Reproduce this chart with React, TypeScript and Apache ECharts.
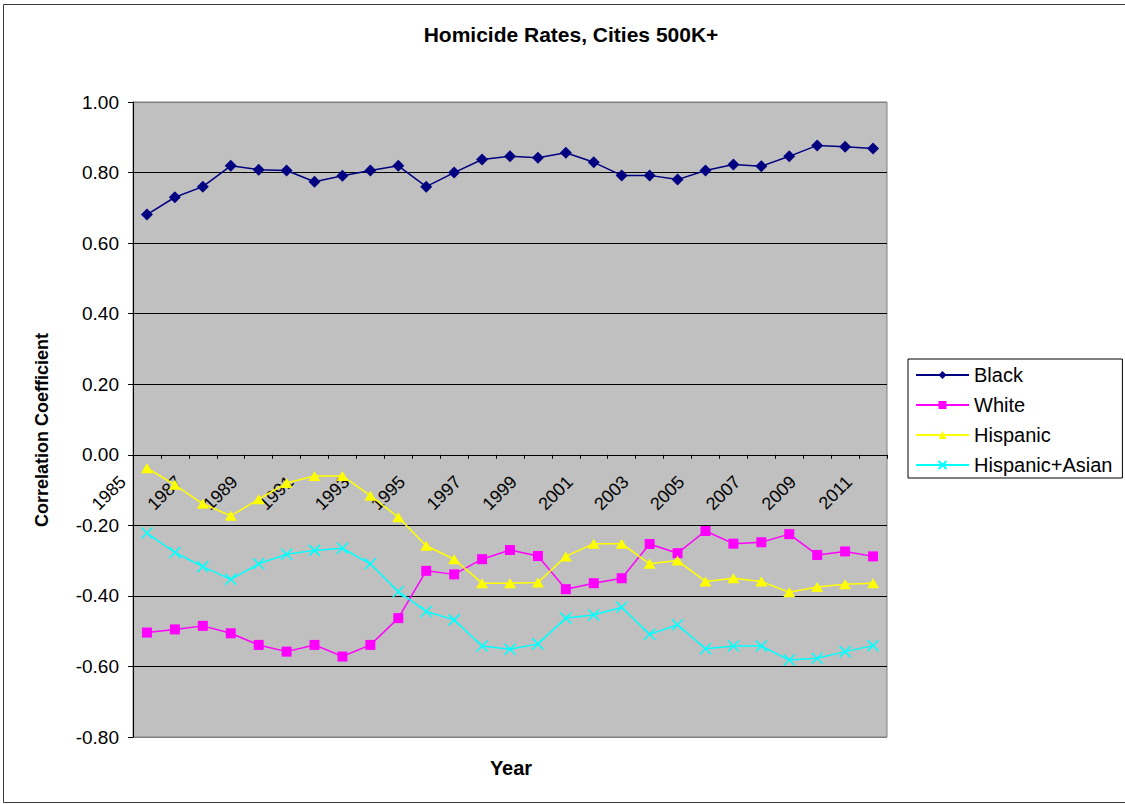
import { useEffect, useRef } from 'react';
import * as echarts from 'echarts';

const years = [
  '1985', '1986', '1987', '1988', '1989', '1990', '1991', '1992', '1993', '1994',
  '1995', '1996', '1997', '1998', '1999', '2000', '2001', '2002', '2003', '2004',
  '2005', '2006', '2007', '2008', '2009', '2010', '2011',
];

const black = [
  0.681, 0.730, 0.760, 0.819, 0.808, 0.806, 0.774, 0.791, 0.806, 0.819,
  0.760, 0.800, 0.837, 0.846, 0.842, 0.856, 0.829, 0.792, 0.792, 0.780,
  0.806, 0.823, 0.818, 0.846, 0.877, 0.873, 0.868,
];

const white = [
  -0.504, -0.495, -0.485, -0.506, -0.539, -0.558, -0.539, -0.572, -0.539, -0.463,
  -0.329, -0.339, -0.296, -0.270, -0.287, -0.381, -0.364, -0.350, -0.253, -0.279,
  -0.216, -0.252, -0.248, -0.225, -0.284, -0.274, -0.288,
];

const hispanic = [
  -0.038, -0.085, -0.139, -0.173, -0.126, -0.080, -0.060, -0.060, -0.116, -0.177,
  -0.258, -0.296, -0.364, -0.364, -0.362, -0.288, -0.252, -0.252, -0.309, -0.300,
  -0.359, -0.350, -0.359, -0.390, -0.375, -0.367, -0.364,
];

const hispanicAsian = [
  -0.222, -0.277, -0.317, -0.353, -0.309, -0.282, -0.271, -0.265, -0.309, -0.388,
  -0.444, -0.468, -0.542, -0.551, -0.536, -0.463, -0.454, -0.432, -0.509, -0.482,
  -0.550, -0.542, -0.542, -0.582, -0.577, -0.558, -0.541,
];

const seriesNames = ['Black', 'White', 'Hispanic', 'Hispanic+Asian'];

const Y_MIN = -0.8;
const Y_MAX = 1.0;
const GRID_TOP = 102;
const GRID_HEIGHT = 635;

const FONT = '"Liberation Sans", Arial, Helvetica, sans-serif';

export default function App() {
  const ref = useRef<HTMLDivElement>(null);

  useEffect(() => {
    const chart = echarts.init(ref.current as HTMLDivElement, null, { renderer: 'svg' });
    const gridColors = ['#808080', '#000', '#000', '#000', '#000', '#000', '#000', '#000', '#000', '#808080'];
    // distance from the grid bottom up to the zero line
    const zeroOffset = (-Y_MIN / (Y_MAX - Y_MIN)) * GRID_HEIGHT;
    chart.setOption({
      animation: false,
      backgroundColor: '#ffffff',
      textStyle: { fontFamily: FONT },
      title: {
        text: 'Homicide Rates, Cities 500K+',
        left: 566,
        top: 19,
        textAlign: 'center',
        textStyle: { fontFamily: FONT, fontSize: 21, fontWeight: 'bold', color: '#000' },
      },
      graphic: [
        {
          type: 'rect',
          silent: true,
          z: -10,
          shape: { x: 3.5, y: 4.5, width: 1130, height: 798 },
          style: { fill: 'none', stroke: '#3a3a3a', lineWidth: 1 },
        },
        {
          type: 'text',
          x: 511,
          y: 768,
          style: {
            text: 'Year',
            fontFamily: FONT,
            fontSize: 20,
            fontWeight: 'bold',
            fill: '#000',
            textAlign: 'center',
            textVerticalAlign: 'middle',
          },
        },
        {
          type: 'text',
          x: 42,
          y: 430,
          rotation: Math.PI / 2,
          style: {
            text: 'Correlation Coefficient',
            fontFamily: FONT,
            fontSize: 18,
            fontWeight: 'bold',
            fill: '#000',
            textAlign: 'center',
            textVerticalAlign: 'middle',
          },
        },
      ],
      legend: {
        data: seriesNames,
        orient: 'vertical',
        left: 908,
        top: 359,
        itemWidth: 53,
        itemHeight: 10,
        itemGap: 10,
        padding: [6, 10, 3, 7],
        borderColor: '#000',
        borderWidth: 1,
        backgroundColor: '#fff',
        textStyle: { fontFamily: FONT, fontSize: 20, color: '#000', lineHeight: 20 },
      },
      grid: {
        left: 133,
        top: GRID_TOP,
        width: 754,
        height: GRID_HEIGHT,
        show: true,
        backgroundColor: '#C0C0C0',
        borderColor: '#808080',
        borderWidth: 1,
      },
      xAxis: {
        type: 'category',
        data: years,
        boundaryGap: true,
        position: 'bottom',
        offset: -zeroOffset,
        axisLine: { onZero: false, lineStyle: { color: '#000', width: 1 } },
        axisTick: { show: true, interval: 0, length: 4, lineStyle: { color: '#000' } },
        axisLabel: {
          interval: 1,
          rotate: 45,
          margin: 0,
          padding: [0, 34, 0, 0],
          fontFamily: FONT,
          fontSize: 18,
          color: '#000',
        },
        splitLine: { show: false },
      },
      yAxis: {
        type: 'value',
        min: Y_MIN,
        max: Y_MAX,
        interval: 0.2,
        axisLine: { show: true, onZero: false, lineStyle: { color: '#000', width: 1 } },
        axisTick: { show: true, length: 5, lineStyle: { color: '#000' } },
        axisLabel: {
          margin: 14,
          fontFamily: FONT,
          fontSize: 19,
          color: '#000',
          formatter: (v: number) => v.toFixed(2),
        },
        splitLine: { show: true, lineStyle: { color: gridColors, width: 1 } },
      },
      series: [
        {
          name: 'Black',
          type: 'line',
          data: black,
          symbol: 'diamond',
          symbolSize: 12,
          lineStyle: { color: '#000080', width: 1.5 },
          itemStyle: { color: '#000080' },
        },
        {
          name: 'White',
          type: 'line',
          data: white,
          symbol: 'rect',
          symbolSize: 10,
          lineStyle: { color: '#FF00FF', width: 1.5 },
          itemStyle: { color: '#FF00FF' },
        },
        {
          name: 'Hispanic',
          type: 'line',
          data: hispanic,
          symbol: 'triangle',
          symbolSize: [12, 10],
          lineStyle: { color: '#FFFF00', width: 1.5 },
          itemStyle: { color: '#FFFF00' },
        },
        {
          name: 'Hispanic+Asian',
          type: 'line',
          data: hispanicAsian,
          symbol: 'path://M0 0L10 10M10 0L0 10',
          symbolSize: 11,
          symbolKeepAspect: true,
          lineStyle: { color: '#00FFFF', width: 1.5 },
          itemStyle: { color: '#00FFFF', borderColor: '#00FFFF', borderWidth: 1.5 },
        },
      ],
    });
    return () => chart.dispose();
  }, []);

  return (
    <div
      ref={ref}
      style={{ position: 'absolute', left: 0, top: 0, width: 1125, height: 804, background: '#fff' }}
    />
  );
}
